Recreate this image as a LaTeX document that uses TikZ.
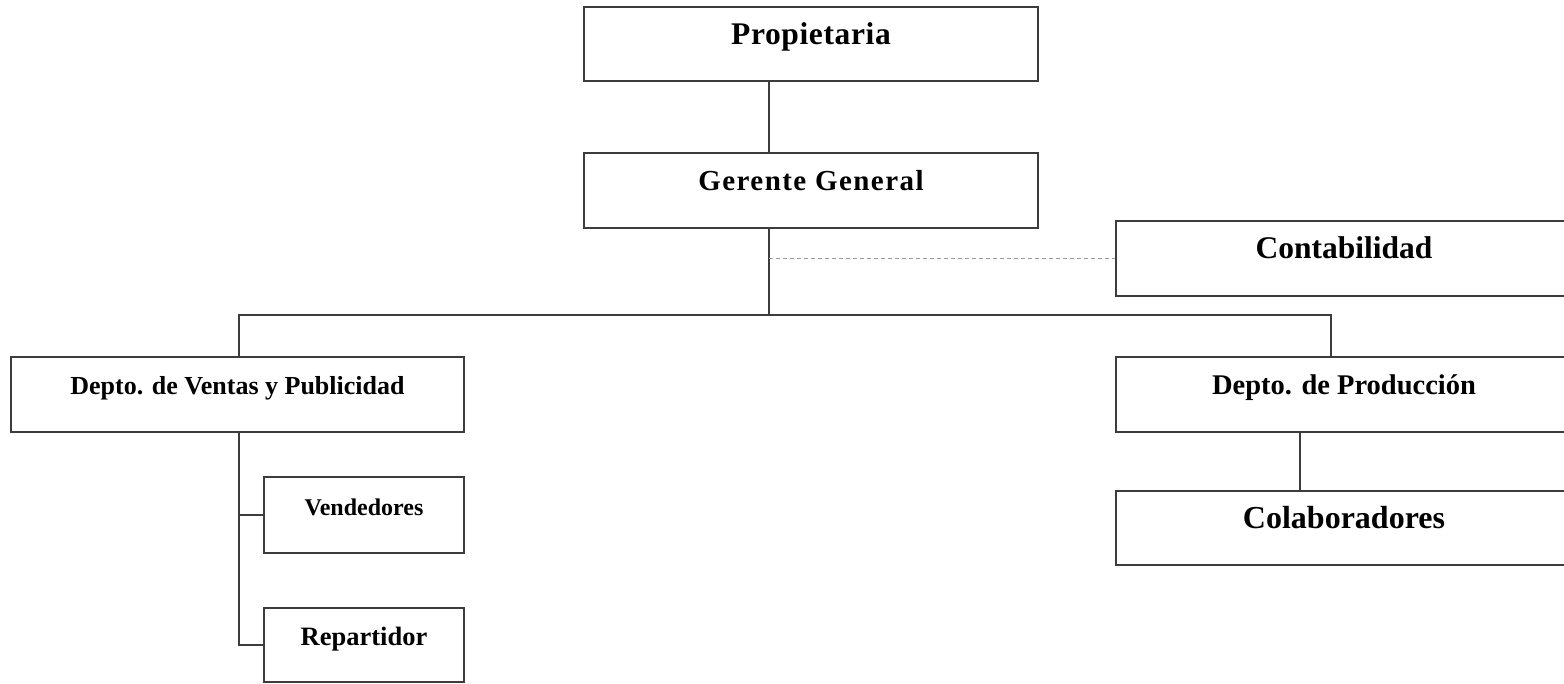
\documentclass[tikz,border=0pt]{standalone}
\usepackage{fontspec}
\setmainfont{Liberation Serif}
\usetikzlibrary{positioning}
\definecolor{ink}{HTML}{3C3C3C}
\definecolor{dashgray}{HTML}{9C9C9C}

\begin{document}
\begin{tikzpicture}[x=1pt,y=-1pt,
  unit/.style={draw=ink,line width=1.6pt,inner sep=0pt,minimum height=75pt,
    text height=10pt,text depth=10pt,font=\fontsize{#1}{#1}\selectfont\bfseries},
  link/.style={draw=ink,line width=1.5pt},
  aside/.style={draw=dashgray,line width=1.3pt,dash pattern=on 4pt off 3pt}]
  \useasboundingbox (0,0) rectangle (1564,683);
  \node[unit=31.5,minimum width=454pt,minimum height=74pt] (prop) at (811,44) {\addfontfeature{LetterSpace=2}Propietaria};
  \node[unit=29,minimum width=454pt] (ger) at (811,190.5) {\addfontfeature{LetterSpace=5}Gerente General};
  \node[unit=31.5,minimum width=456pt] (cont) at (1344,258.5) {Contabilidad};
  \node[unit=26,minimum width=453pt] (ventas) at (237.5,394.5) {Depto. de Ventas y Publicidad};
  \node[unit=28.5,minimum width=456pt] (prod) at (1344,394.5) {Depto. de Producción};
  \node[unit=24,minimum width=200pt,minimum height=76pt] (vend) at (364,515) {Vendedores};
  \node[unit=26.5,minimum width=200pt,minimum height=74pt] (rep) at (364,645) {Repartidor};
  \node[unit=32,minimum width=456pt,minimum height=74pt] (colab) at (1344,528) {Colaboradores};
  \coordinate (trunk) at (769,0);
  \coordinate (bus) at (0,315);
  \coordinate (prodtap) at (1331,0);
  \coordinate (ventasub) at (239,0);
  \coordinate (prodsub) at (1300,0);
  \draw[link] (trunk |- prop.south) -- (trunk |- ger.north);
  \draw[link] (trunk |- ger.south) -- (trunk |- bus);
  \draw[aside] (trunk |- cont.west) -- (cont.west);
  \draw[link] (ventasub |- ventas.north) |- (prodtap |- bus) -- (prodtap |- prod.north);
  \draw[link] (ventasub |- ventas.south) |- (rep.west);
  \draw[link] (ventasub |- vend.west) -- (vend.west);
  \draw[link] (prodsub |- prod.south) -- (prodsub |- colab.north);
\end{tikzpicture}
\end{document}
